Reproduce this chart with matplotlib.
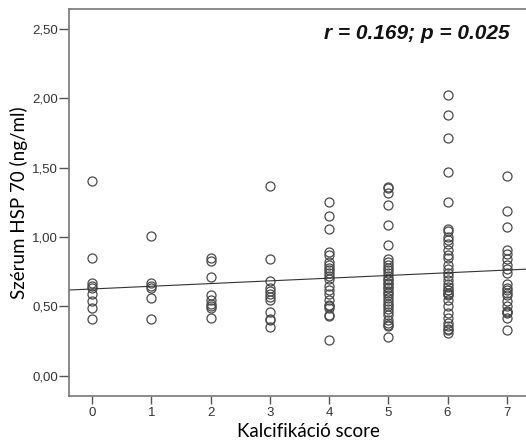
import numpy as np
import matplotlib
matplotlib.use('Agg')
import matplotlib.pyplot as plt

# HSP70 serum levels by calcification score
score0 = [1.40, 0.85, 0.67, 0.65, 0.63, 0.59, 0.54, 0.49, 0.41]
score1 = [1.01, 0.67, 0.65, 0.63, 0.56, 0.41]
score2 = [0.85, 0.83, 0.71, 0.58, 0.55, 0.52, 0.50, 0.49, 0.42]
score3 = [1.37, 0.84, 0.68, 0.63, 0.61, 0.59, 0.57, 0.55, 0.46, 0.41, 0.40, 0.35]
score4 = [1.25, 1.15, 1.06, 0.89, 0.87, 0.82, 0.80, 0.78, 0.76, 0.74, 0.72,
          0.70, 0.65, 0.62, 0.59, 0.55, 0.51, 0.50, 0.49, 0.44, 0.43, 0.26]
score5 = [1.36, 1.35, 1.32, 1.23, 1.09, 0.94, 0.84, 0.82, 0.80, 0.78, 0.76,
          0.74, 0.72, 0.70, 0.69, 0.67, 0.66, 0.64, 0.63, 0.61, 0.60, 0.58,
          0.56, 0.54, 0.52, 0.50, 0.48, 0.46, 0.44, 0.40, 0.38, 0.37, 0.36, 0.28]
score6 = [2.02, 1.88, 1.71, 1.47, 1.25, 1.06, 1.04, 1.00, 0.98, 0.95, 0.91,
          0.87, 0.85, 0.80, 0.77, 0.74, 0.72, 0.69, 0.66, 0.64, 0.62, 0.62,
          0.60, 0.59, 0.58, 0.55, 0.50, 0.45, 0.42, 0.38, 0.36, 0.34, 0.33, 0.31]
score7 = [1.44, 1.19, 1.07, 0.91, 0.88, 0.84, 0.80, 0.77, 0.74, 0.66, 0.63,
          0.62, 0.60, 0.58, 0.54, 0.50, 0.47, 0.46, 0.45, 0.42, 0.33]
groups = [score0, score1, score2, score3, score4, score5, score6, score7]

ytick_vals = [0.0, 0.5, 1.0, 1.5, 2.0, 2.5]
ytick_labels = ['0,00', '0,50', '1,00', '1,50', '2,00', '2,50']
stat_text = 'r = 0.169; p = 0.025'

xs = []
ys = []
for i, g in enumerate(groups):
    xs += [i] * len(g)
    ys += g
xs = np.array(xs)
ys = np.array(ys)

fig = plt.figure(figsize=(5.26, 4.44), dpi=100)
# plot frame runs past the right edge of the image, as in the original
ax = fig.add_axes([0.131, 0.109, 0.9125, 0.870])

ax.plot(xs, ys, 'o', markerfacecolor='none', markeredgecolor='#4a4a4a',
        markersize=6.5, markeredgewidth=0.9)

# least squares line
slope, intercept = np.polyfit(xs, ys, 1)
lx = np.array([-0.5, 8.0])
ax.plot(lx, intercept + slope * lx, color='#333333', linewidth=0.8)

ax.set_xlim(-0.39, 7.71)
ax.set_ylim(-0.142, 2.64)
ax.set_xticks(range(8))
ax.set_xticklabels([str(i) for i in range(8)], fontfamily='Liberation Sans',
                   fontsize=9.5, color='#333333')
ax.set_yticks(ytick_vals)
ax.set_yticklabels(ytick_labels, fontfamily='Liberation Sans', fontsize=9.5,
                   color='#333333')
ax.tick_params(axis='y', direction='out', length=7, width=1, color='#555555', pad=1)
ax.tick_params(axis='x', direction='out', length=6, width=1, color='#555555', pad=2)

for s in ['left', 'bottom', 'top']:
    ax.spines[s].set_color('#777777')
    ax.spines[s].set_linewidth(1.2)
ax.spines['right'].set_visible(False)

ax.set_xlabel('Kalcifikáció score', fontfamily='Lato', fontsize=13.5, labelpad=3)
ax.set_ylabel('Szérum HSP 70 (ng/ml)', fontfamily='Lato', fontsize=13.5, labelpad=3)

ax.text(0.919, 0.937, stat_text, transform=ax.transAxes, ha='right', va='center',
        fontfamily='Liberation Sans', fontsize=15, fontweight='bold',
        fontstyle='italic', color='#111111')

fig.savefig('out.png', dpi=100)
